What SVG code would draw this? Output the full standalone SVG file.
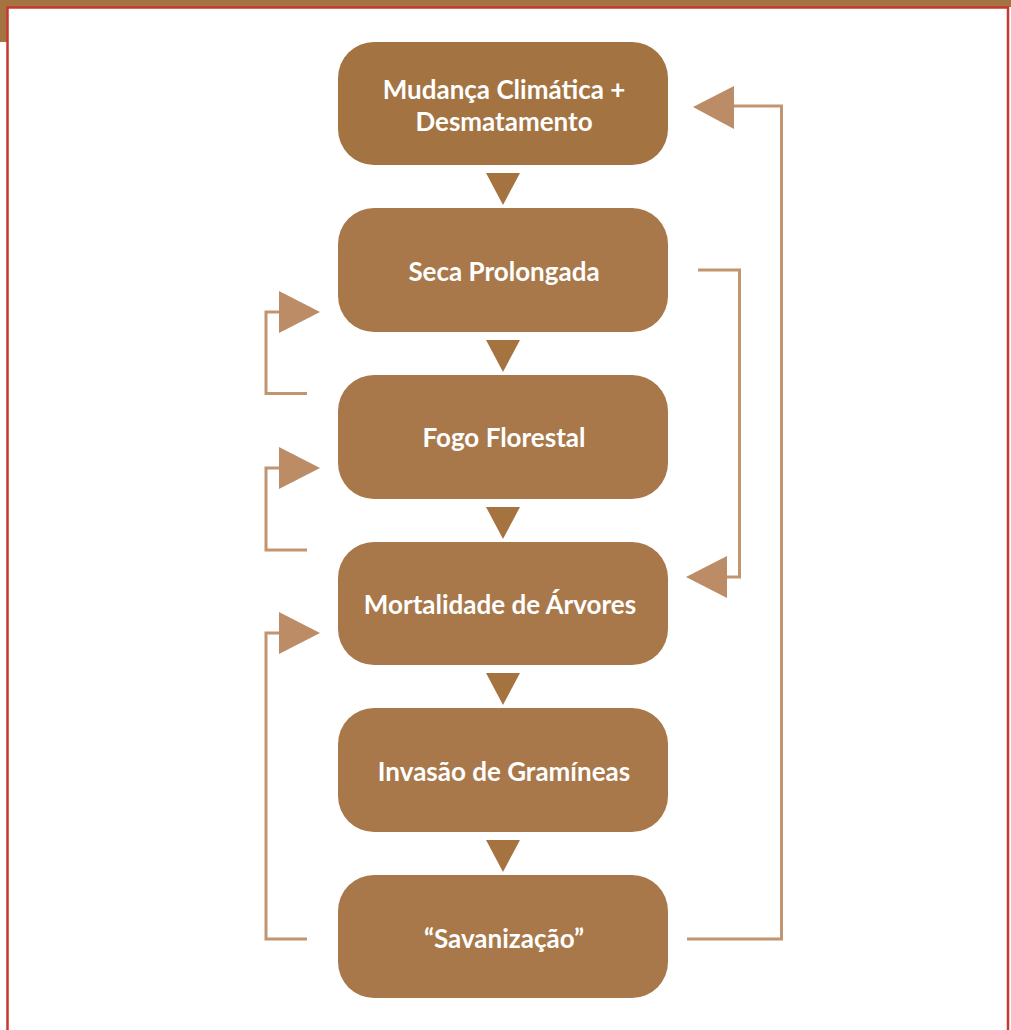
<svg xmlns="http://www.w3.org/2000/svg" width="1011" height="1030" viewBox="0 0 1011 1030">
<style>
.node rect{fill:#a8784a}
.node text{fill:#ffffff;font-family:Lato,"Open Sans",sans-serif;font-weight:bold;font-size:26px;text-anchor:middle}
.tri{fill:#a5733f}
.fb{fill:none;stroke:#c19570;stroke-width:3}
.fbh{fill:#bb8c65}
</style>
<rect x="0" y="0" width="1011" height="7" fill="#a37342"/>
<rect x="0" y="0" width="7" height="42" fill="#a37342"/>
<path d="M7.5 1030 V7.5 H1008 V1030" fill="none" stroke="#c8372d" stroke-width="2.5"/>
<g id="n1" class="node"><rect x="338" y="42" width="330" height="123" rx="36" style="fill:#a37342"/><text x="504" y="99">Mudança Climática +</text><text x="504" y="131">Desmatamento</text></g>
<g id="n2" class="node"><rect x="338" y="208" width="330" height="124" rx="36"/><text x="504" y="281">Seca Prolongada</text></g>
<g id="n3" class="node"><rect x="338" y="375" width="330" height="124" rx="36"/><text x="504" y="447">Fogo Florestal</text></g>
<g id="n4" class="node"><rect x="338" y="542" width="330" height="123" rx="36"/><text x="500" y="614">Mortalidade de Árvores</text></g>
<g id="n5" class="node"><rect x="338" y="708" width="330" height="124" rx="36"/><text x="504" y="781">Invasão de Gramíneas</text></g>
<g id="n6" class="node"><rect x="338" y="875" width="330" height="123" rx="36"/><text x="504" y="948">“Savanização”</text></g>
<g id="connectors">
<polygon class="tri" points="486,173 520,173 503,205"/>
<polygon class="tri" points="486,340 520,340 503,372"/>
<polygon class="tri" points="486,507 520,507 503,539"/>
<polygon class="tri" points="486,673 520,673 503,705"/>
<polygon class="tri" points="486,840 520,840 503,872"/>
<polyline class="fb" points="307,393.5 266,393.5 266,312 282,312"/>
<polygon class="fbh" points="279,291 320,312 279,333"/>
<polyline class="fb" points="307,550 266,550 266,468 282,468"/>
<polygon class="fbh" points="279,447 320,468 279,489"/>
<polyline class="fb" points="307,939 266,939 266,633 282,633"/>
<polygon class="fbh" points="279,612 320,633 279,654"/>
<polyline class="fb" points="698,270 739.5,270 739.5,577 724,577"/>
<polygon class="fbh" points="727,556 686,577 727,598"/>
<polyline class="fb" points="687,939 781.5,939 781.5,106 731,106"/>
<polygon class="fbh" points="734,86 693,107 734,129"/>
</g>
</svg>
